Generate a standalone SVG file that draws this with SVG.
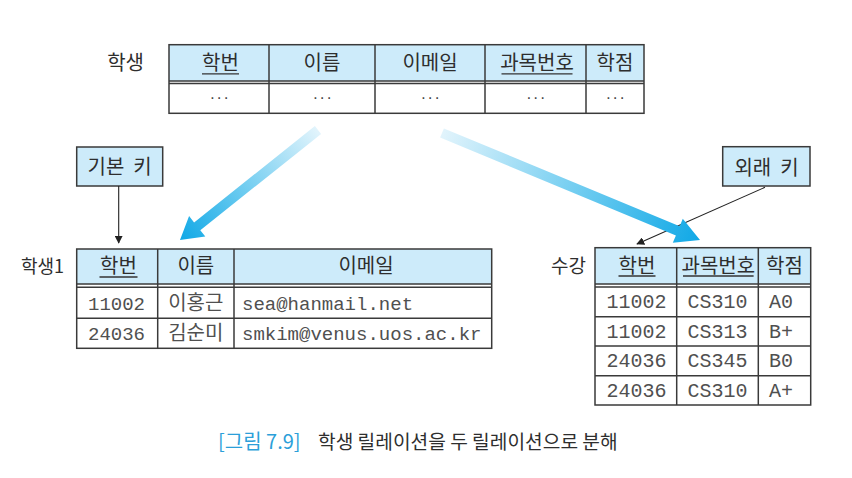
<svg xmlns="http://www.w3.org/2000/svg" width="852" height="478" viewBox="0 0 852 478">
<style>
.hdr{fill:#cdebfa;stroke:none}
.frame{fill:none;stroke:#3a3a3a;stroke-width:1.5}
.ln{stroke:#3a3a3a;stroke-width:1.5;fill:none}
.ul{stroke:#333;stroke-width:1.3}
.kr{font-family:"Noto Sans CJK KR","Noto Sans",sans-serif;fill:#2e2e2e;text-anchor:middle}
.h18{font-size:20px}
.lbl{font-family:"Noto Sans CJK KR","Noto Sans",sans-serif;fill:#2e2e2e;font-size:19px;text-anchor:end}
.dots{font-family:"Liberation Sans",sans-serif;font-size:16px;fill:#444;text-anchor:middle;letter-spacing:1.5px}
.mono{font-family:"Liberation Mono","Noto Sans CJK KR",monospace;font-size:19px;fill:#505050;text-anchor:middle}
.monol{font-family:"Liberation Mono","Noto Sans CJK KR",monospace;font-size:19px;fill:#505050;text-anchor:start}
.conn{stroke:#222;stroke-width:1.1;fill:none}
</style>
<defs>
<marker id="ah" viewBox="0 0 10 10" refX="9" refY="5" markerWidth="8" markerHeight="8" markerUnits="userSpaceOnUse" orient="auto">
<path d="M0,0 L10,5 L0,10 Z" fill="#222"/>
</marker>
<linearGradient id="gL" gradientUnits="userSpaceOnUse" x1="318" y1="130" x2="180" y2="240">
<stop offset="0" stop-color="#e2f4fc"/>
<stop offset="0.55" stop-color="#6ccbf0"/>
<stop offset="1" stop-color="#10a8e6"/>
</linearGradient>
<linearGradient id="gR" gradientUnits="userSpaceOnUse" x1="442" y1="133" x2="700" y2="240">
<stop offset="0" stop-color="#e2f4fc"/>
<stop offset="0.55" stop-color="#6ccbf0"/>
<stop offset="1" stop-color="#10a8e6"/>
</linearGradient>
</defs>
<rect width="852" height="478" fill="#ffffff"/>

<g id="student">
<text class="lbl" x="144" y="70" style="font-size:20px">학생</text>
<rect class="hdr" x="169" y="44.7" width="475" height="36.3"/>
<rect class="frame" x="169" y="44.7" width="475" height="68.6"/>
<line class="ln" x1="169" y1="81" x2="644" y2="81"/>
<line class="ln" x1="169" y1="83.5" x2="644" y2="83.5"/>
<line class="ln" x1="269" y1="44.7" x2="269" y2="113.3"/>
<line class="ln" x1="375" y1="44.7" x2="375" y2="113.3"/>
<line class="ln" x1="485" y1="44.7" x2="485" y2="113.3"/>
<line class="ln" x1="586" y1="44.7" x2="586" y2="113.3"/>
<text class="kr h18" x="220.5" y="70">학번</text>
<line class="ul" x1="202" y1="73.8" x2="239" y2="73.8"/>
<text class="kr h18" x="322" y="70">이름</text>
<text class="kr h18" x="430" y="70">이메일</text>
<text class="kr h18" x="537" y="70">과목번호</text>
<line class="ul" x1="501.5" y1="73.8" x2="572.5" y2="73.8"/>
<text class="kr h18" x="615" y="70">학점</text>
<text class="dots" x="220" y="102.5">···</text>
<text class="dots" x="323" y="102.5">···</text>
<text class="dots" x="431" y="102.5">···</text>
<text class="dots" x="536.5" y="102.5">···</text>
<text class="dots" x="616" y="102.5">···</text>
</g>

<g id="student1">
<text class="lbl" x="64" y="273" style="font-size:18px">학생1</text>
<rect class="hdr" x="76.7" y="249" width="415" height="35"/>
<rect class="frame" x="76.7" y="249" width="415" height="99.3"/>
<line class="ln" x1="76.7" y1="284" x2="491.7" y2="284"/>
<line class="ln" x1="76.7" y1="287.3" x2="491.7" y2="287.3"/>
<line class="ln" x1="76.7" y1="318.3" x2="491.7" y2="318.3"/>
<line class="ln" x1="157.7" y1="249" x2="157.7" y2="348.3"/>
<line class="ln" x1="234" y1="249" x2="234" y2="348.3"/>
<text class="kr h18" x="118.5" y="273">학번</text>
<line class="ul" x1="99.5" y1="277" x2="137.5" y2="277"/>
<text class="kr h18" x="195.8" y="273">이름</text>
<text class="kr h18" x="366" y="273">이메일</text>
<text class="mono" x="116.5" y="309.5">11002</text>
<text class="mono" x="195.8" y="309.5" style="font-size:20px">이홍근</text>
<text class="monol" x="242" y="309.5">sea@hanmail.net</text>
<text class="mono" x="116.5" y="339.5">24036</text>
<text class="mono" x="195.8" y="339.5" style="font-size:20px">김순미</text>
<text class="monol" x="242" y="339.5">smkim@venus.uos.ac.kr</text>
</g>

<g id="enroll">
<text class="lbl" x="586" y="273">수강</text>
<rect class="hdr" x="595" y="247.7" width="215.7" height="36.3"/>
<rect class="frame" x="595" y="247.7" width="215.7" height="157.3"/>
<line class="ln" x1="595" y1="284" x2="810.7" y2="284"/>
<line class="ln" x1="595" y1="287" x2="810.7" y2="287"/>
<line class="ln" x1="595" y1="316.7" x2="810.7" y2="316.7"/>
<line class="ln" x1="595" y1="346" x2="810.7" y2="346"/>
<line class="ln" x1="595" y1="375.7" x2="810.7" y2="375.7"/>
<line class="ln" x1="676.7" y1="247.7" x2="676.7" y2="405"/>
<line class="ln" x1="758.3" y1="247.7" x2="758.3" y2="405"/>
<text class="kr h18" x="637" y="273">학번</text>
<line class="ul" x1="618.5" y1="276" x2="655.5" y2="276"/>
<text class="kr h18" x="718.3" y="273">과목번호</text>
<line class="ul" x1="683" y1="276" x2="753.6" y2="276"/>
<text class="kr h18" x="784.5" y="273">학점</text>
<text class="mono" x="636.5" y="308" style="font-size:20px">11002</text>
<text class="mono" x="717.5" y="308" style="font-size:20px">CS310</text>
<text class="mono" x="781" y="308" style="font-size:20px">A0</text>
<text class="mono" x="636.5" y="337.5" style="font-size:20px">11002</text>
<text class="mono" x="717.5" y="337.5" style="font-size:20px">CS313</text>
<text class="mono" x="781" y="337.5" style="font-size:20px">B+</text>
<text class="mono" x="636.5" y="367" style="font-size:20px">24036</text>
<text class="mono" x="717.5" y="367" style="font-size:20px">CS345</text>
<text class="mono" x="781" y="367" style="font-size:20px">B0</text>
<text class="mono" x="636.5" y="396.5" style="font-size:20px">24036</text>
<text class="mono" x="717.5" y="396.5" style="font-size:20px">CS310</text>
<text class="mono" x="781" y="396.5" style="font-size:20px">A+</text>
</g>

<g id="pk">
<rect x="76.7" y="147" width="86" height="39" fill="#cdebfa" stroke="#3a3a3a" stroke-width="1.5"/>
<text class="kr h18" x="119.7" y="174.3" xml:space="preserve">기본  키</text>
</g>

<g id="fk">
<rect x="722.7" y="146.7" width="87.3" height="39.3" fill="#cdebfa" stroke="#3a3a3a" stroke-width="1.5"/>
<text class="kr h18" x="766.5" y="175" xml:space="preserve">외래  키</text>
</g>

<g id="connectors">
<line class="conn" x1="118.7" y1="186" x2="118.7" y2="243" marker-end="url(#ah)"/>
<line class="conn" x1="765" y1="187.3" x2="637" y2="244" marker-end="url(#ah)"/>
<polygon fill="url(#gL)" points="321.1,133.9 200.3,230.2 205.3,236.5 180,240 189.1,216.1 194.1,222.4 314.9,126.1"/>
<polygon fill="url(#gR)" points="440.1,137.6 675.9,235.4 672.8,242.8 700,240 682.8,218.8 679.7,226.2 443.9,128.4"/>
</g>

<g id="caption">
<text x="218" y="448.5" style="font-family:'Noto Sans CJK KR','Noto Sans',sans-serif;font-size:20px;fill:#2c9fd9">[그림 7.9]</text>
<text x="318" y="448.5" style="font-family:'Noto Sans CJK KR','Noto Sans',sans-serif;font-size:19.2px;fill:#2e2e2e">학생 릴레이션을 두 릴레이션으로 분해</text>
</g>
</svg>
